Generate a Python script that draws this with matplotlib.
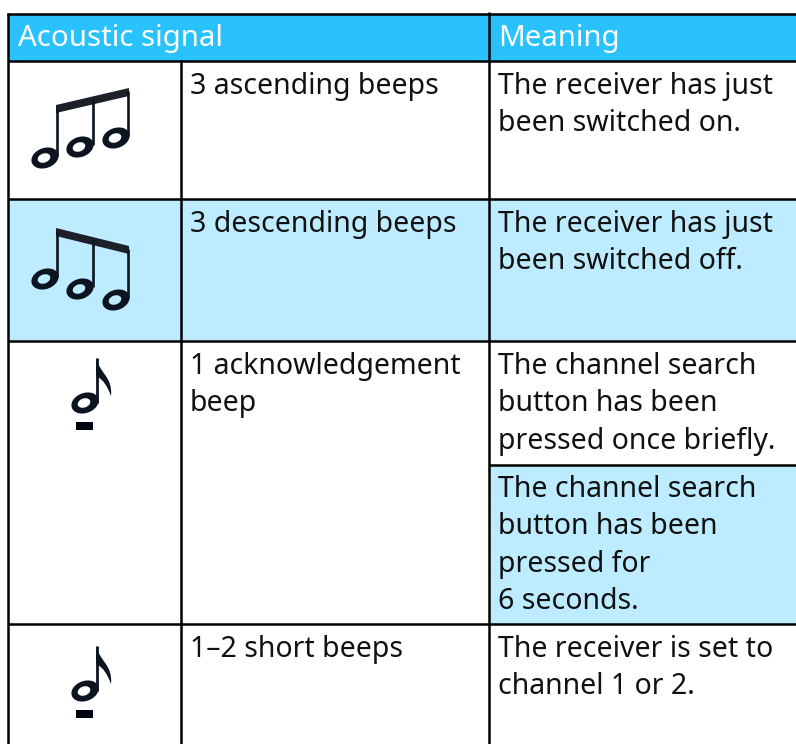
import matplotlib
matplotlib.use("Agg")
import matplotlib.pyplot as plt
from matplotlib.patches import Rectangle, Ellipse, Polygon, PathPatch
from matplotlib.path import Path

W, H = 796, 744
FONT = "Noto Sans"
FS = 20.5
HEADER = "#29c2ff"
LIGHT = "#bdebff"
INK = "#0b1420"

headers = ["Acoustic signal", "Meaning"]
signals = ["3 ascending beeps", "3 descending beeps", "1 acknowledgement\nbeep", "1\u20132 short beeps"]
meanings = ["The receiver has just\nbeen switched on.",
            "The receiver has just\nbeen switched off.",
            "The channel search\nbutton has been\npressed once briefly.",
            "The channel search\nbutton has been\npressed for\n6 seconds.",
            "The receiver is set to\nchannel 1 or 2."]
row_tops = [61, 199, 341, 624]
meaning_tops = [61, 199, 341, 464, 624]

fig = plt.figure(figsize=(W / 100, H / 100), dpi=100, facecolor="white")
ax = fig.add_axes([0, 0, 1, 1])
ax.set_xlim(0, W); ax.set_ylim(H, 0); ax.axis("off")

L, C1, C2 = 8, 181, 489
ax.add_patch(Rectangle((L, 14), W - L, 47, fc=HEADER, ec="none"))
ax.add_patch(Rectangle((L, 199), W - L, 142, fc=LIGHT, ec="none"))
ax.add_patch(Rectangle((C2, 465), W - C2, 159, fc=LIGHT, ec="none"))

def hl(y, a, b):
    ax.plot([a, b], [y, y], color="black", lw=1.8, solid_capstyle="butt")
def vl(x, a, b):
    ax.plot([x, x], [a, b], color="black", lw=1.8, solid_capstyle="butt")
hl(14, L - 1, W); hl(61, L, W); hl(199, L, W); hl(341, L, W); hl(465, C2, W); hl(624, L, W)
vl(L, 13, H); vl(C1, 60, H); vl(C2, 12, H)

def txt(x, y, s, color="#111111", size=FS, weight="normal"):
    ax.text(x, y, s, fontfamily=FONT, fontsize=size, color=color, va="top", ha="left",
            linespacing=1.38, fontweight=weight)

txt(18, 24, headers[0], "white", 21.2, "medium")
txt(498, 24, headers[1], "white", 21.2, "medium")
for top, s in zip(row_tops, signals):
    txt(190, top + 11, s)
for top, s in zip(meaning_tops, meanings):
    txt(498, top + 11, s)

def head(cx, cy, bg):
    ax.add_patch(Ellipse((cx, cy), 28, 20, angle=-20, fc=INK, ec="none"))
    ax.add_patch(Ellipse((cx - 1, cy), 13, 9, angle=-20, fc=bg, ec="none"))

def triple(heads, stems, beam, bg):
    (x0, y0), (x1, y1) = beam
    for (cx, cy), sx in zip(heads, stems):
        ytop = y0 + (y1 - y0) * (sx - x0) / (x1 - x0)
        ax.plot([sx, sx], [ytop + 3, cy - 2], color=INK, lw=1.9, solid_capstyle="butt")
        head(cx, cy, bg)
    ax.add_patch(Polygon([(x0, y0), (x1, y1), (x1, y1 + 8), (x0, y0 + 8)], fc="#1c2029", ec="none"))

def single(dy):
    head(85, 403 + dy, "white")
    ax.plot([97, 97], [358 + dy, 403 + dy], color=INK, lw=2.0, solid_capstyle="butt")
    verts = [(96, 357), (98, 372), (113, 376), (111, 396),
             (107, 386), (104, 380), (96, 376), (96, 357)]
    codes = [Path.MOVETO, Path.CURVE4, Path.CURVE4, Path.CURVE4,
             Path.CURVE4, Path.CURVE4, Path.CURVE4, Path.CLOSEPOLY]
    ax.add_patch(PathPatch(Path([(x, y + dy) for x, y in verts], codes), fc=INK, ec="none"))
    ax.add_patch(Rectangle((76, 422 + dy), 17, 8, fc="#000510", ec="none"))

stem_x = [57, 92.5, 128]
triple([(45, 158), (80, 147), (116, 138)], stem_x, ((56, 105), (129, 88)), "white")
triple([(45, 279), (80, 289), (116, 300)], stem_x, ((56, 228), (129, 246)), LIGHT)
single(0)
single(288)

fig.savefig("out.png", dpi=100)
